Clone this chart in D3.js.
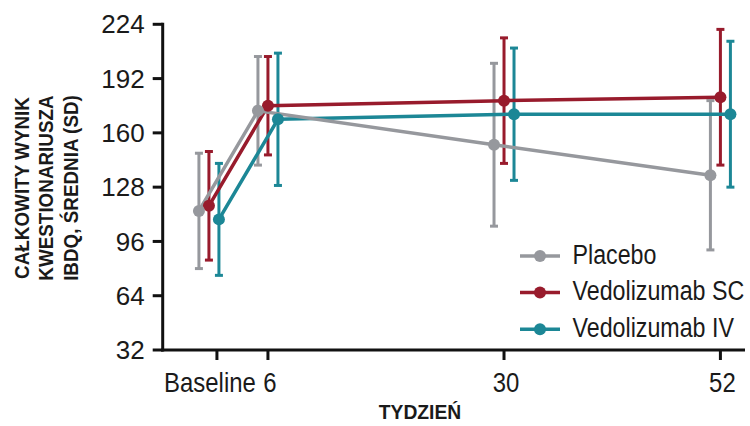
<!DOCTYPE html>
<html lang="pl">
<head>
    <meta charset="UTF-8">
    <title>IBDQ</title>
    <script src="https://d3js.org/d3.v7.min.js"></script>
    <style>
        body { margin: 0; background: #fff; }
        text { font-family: "Liberation Sans", Arial, sans-serif; fill: #1a1a1a; }
    </style>
</head>
<body>
    <div class="chart"></div>
    <script>
        // tygodnie i etykiety osi
        const weeks = [0, 6, 30, 52];
        const tickLabels = ["Baseline", "6", "30", "52"];
        const yTicks = [32, 64, 96, 128, 160, 192, 224];

        const seriesNames = ["Placebo", "Vedolizumab SC", "Vedolizumab IV"];
        const placeboMean = [114, 173, 153, 135];
        const placeboSD = [34, 32, 48, 44];
        const scMean = [117, 176, 179, 181];
        const scSD = [32, 29, 37, 40];
        const ivMean = [109, 168, 171, 171];
        const ivSD = [33, 39, 39, 43];

        const colors = ["#96989d", "#981b2c", "#1c8796"];
        const offsets = [-10, 0, 10];

        const series = [
            { name: seriesNames[0], mean: placeboMean, sd: placeboSD },
            { name: seriesNames[1], mean: scMean, sd: scSD },
            { name: seriesNames[2], mean: ivMean, sd: ivSD }
        ].map((s, i) => ({
            ...s, color: colors[i], dx: offsets[i],
            points: weeks.map((w, j) => ({ week: w, mean: s.mean[j], sd: s.sd[j] }))
        }));

        const width = 750;
        const height = 426;
        const narrow = 0.84; // czcionka zwężona

        const x = d3.scaleLinear().domain([-4.7, 54.5]).range([162.7, 745]);
        const y = d3.scaleLinear().domain([32, 224]).range([350, 24.3]);

        const svg = d3.select('.chart')
            .append('svg')
            .attr('width', width)
            .attr('height', height);

        // osie
        const yAxis = svg.append('g').attr('transform', 'translate(162.7,0)');
        yAxis.append('line').attr('y1', y(224) - 1.5).attr('y2', y(32) + 1.5)
            .attr('stroke', '#111').attr('stroke-width', 3);
        yAxis.selectAll('.tick').data(yTicks).enter().append('line')
            .attr('x1', -10).attr('x2', 0)
            .attr('y1', d => y(d)).attr('y2', d => y(d))
            .attr('stroke', '#111').attr('stroke-width', 3);
        yAxis.selectAll('.lbl').data(yTicks).enter().append('text')
            .attr('x', -18).attr('y', d => y(d)).attr('dy', '0.35em')
            .attr('text-anchor', 'end').attr('font-size', 26)
            .text(d => d);

        const xAxis = svg.append('g').attr('transform', 'translate(0,350)');
        xAxis.append('line').attr('x1', 161.2).attr('x2', 745)
            .attr('stroke', '#111').attr('stroke-width', 3);
        xAxis.selectAll('.tick').data(weeks).enter().append('line')
            .attr('x1', (d, i) => x(d) + (i === 0 ? 8 : 0))
            .attr('x2', (d, i) => x(d) + (i === 0 ? 8 : 0))
            .attr('y1', 0).attr('y2', 10)
            .attr('stroke', '#111').attr('stroke-width', 3);
        xAxis.selectAll('.lbl').data(weeks).enter().append('text')
            .attr('transform', (d, i) => `translate(${x(d) + (i === 0 ? 1 : 2)},41.5) scale(${narrow},1)`)
            .attr('text-anchor', 'middle').attr('font-size', 28.5)
            .text((d, i) => tickLabels[i]);

        svg.append('text')
            .attr('transform', `translate(420,419) scale(0.92,1)`)
            .attr('text-anchor', 'middle')
            .attr('font-size', 21).attr('font-weight', 'bold')
            .text('TYDZIEŃ');

        const yTitle = ["CAŁKOWITY WYNIK", "KWESTIONARIUSZA", "IBDQ, ŚREDNIA (SD)"];
        svg.selectAll('.ytitle').data(yTitle).enter().append('text')
            .attr('transform', (d, i) => `translate(${28.5 + i * 24.75},188) rotate(-90) scale(0.92,1)`)
            .attr('text-anchor', 'middle')
            .attr('font-size', 20.5).attr('font-weight', 'bold')
            .text(d => d);

        // słupki błędów
        series.forEach(s => {
            const g = svg.append('g').attr('stroke', s.color).attr('stroke-width', 3);
            s.points.forEach(p => {
                const cx = x(p.week) + s.dx;
                g.append('line').attr('x1', cx).attr('x2', cx)
                    .attr('y1', y(p.mean + p.sd)).attr('y2', y(p.mean - p.sd));
                g.append('line').attr('x1', cx - 4).attr('x2', cx + 4)
                    .attr('y1', y(p.mean + p.sd)).attr('y2', y(p.mean + p.sd));
                g.append('line').attr('x1', cx - 4).attr('x2', cx + 4)
                    .attr('y1', y(p.mean - p.sd)).attr('y2', y(p.mean - p.sd));
            });
        });

        // linie
        const line = d3.line().x(d => d.px).y(d => y(d.mean));
        [2, 1, 0].forEach(i => {
            const s = series[i];
            svg.append('path')
                .datum(s.points.map(p => ({ ...p, px: x(p.week) + s.dx })))
                .attr('fill', 'none')
                .attr('stroke', s.color)
                .attr('stroke-width', 3.5)
                .attr('d', line);
        });

        // punkty
        [2, 1, 0].forEach(i => {
            const s = series[i];
            svg.selectAll(null).data(s.points).enter().append('circle')
                .attr('cx', d => x(d.week) + s.dx)
                .attr('cy', d => y(d.mean))
                .attr('r', 6)
                .attr('fill', s.color);
        });

        // legenda
        const legend = svg.append('g');
        series.forEach((s, i) => {
            const ly = 256 + i * 36.6;
            legend.append('line').attr('x1', 520).attr('x2', 560)
                .attr('y1', ly).attr('y2', ly)
                .attr('stroke', s.color).attr('stroke-width', 3.5);
            legend.append('circle').attr('cx', 540).attr('cy', ly).attr('r', 6)
                .attr('fill', s.color);
            legend.append('text')
                .attr('transform', `translate(572.5,${ly + 7.5}) scale(0.83,1)`)
                .attr('font-size', 28).text(s.name);
        });
    </script>
</body>
</html>
